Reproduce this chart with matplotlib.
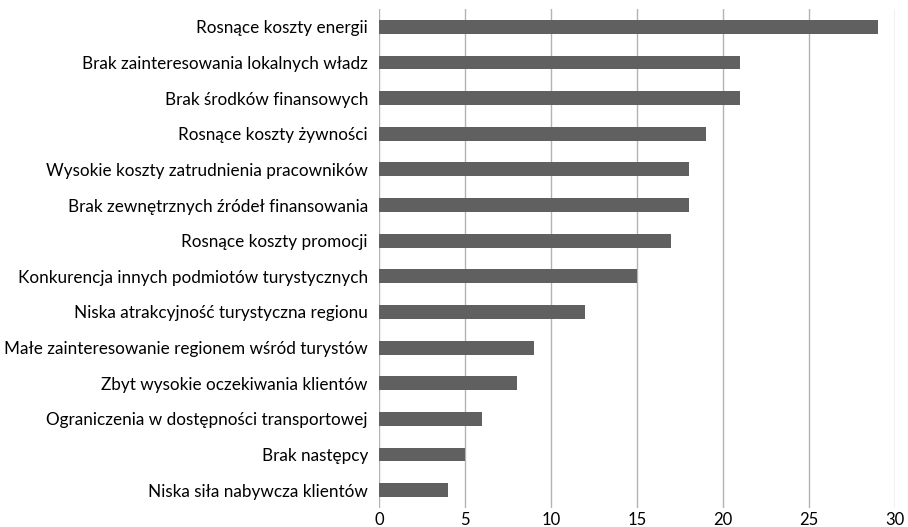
import matplotlib
matplotlib.use("Agg")
import matplotlib.pyplot as plt

categories = [
    "Rosnące koszty energii",
    "Brak zainteresowania lokalnych władz",
    "Brak środków finansowych",
    "Rosnące koszty żywności",
    "Wysokie koszty zatrudnienia pracowników",
    "Brak zewnętrznych źródeł finansowania",
    "Rosnące koszty promocji",
    "Konkurencja innych podmiotów turystycznych",
    "Niska atrakcyjność turystyczna regionu",
    "Małe zainteresowanie regionem wśród turystów",
    "Zbyt wysokie oczekiwania klientów",
    "Ograniczenia w dostępności transportowej",
    "Brak następcy",
    "Niska siła nabywcza klientów",
]
values = [29, 21, 21, 19, 18, 18, 17, 15, 12, 9, 8, 6, 5, 4]
xticks = [0, 5, 10, 15, 20, 25, 30]

plt.rcParams['font.family'] = ['Lato', 'DejaVu Sans']

fig = plt.figure(figsize=(9.08, 5.27), dpi=100)
ax = fig.add_axes([379/908, 1 - 508/527, (895 - 379)/908, (508 - 9)/527])

ypos = list(range(len(categories)))
ax.barh(ypos, values, height=0.39, color="#606060", zorder=3)
ax.set_ylim(len(categories) - 0.5, -0.5)
ax.set_xlim(0, 30)
ax.set_xticks(xticks)
ax.set_xticklabels([str(t) for t in xticks], fontsize=12)
ax.set_yticks(ypos)
ax.set_yticklabels(categories, fontsize=12.3)
ax.tick_params(axis='both', length=0)
ax.tick_params(axis='y', pad=8)
ax.tick_params(axis='x', pad=3)
ax.grid(axis='x', color="#b3b3b3", linewidth=1.0, zorder=0)
for s in ax.spines.values():
    s.set_visible(False)

fig.savefig("out.png", dpi=100)
